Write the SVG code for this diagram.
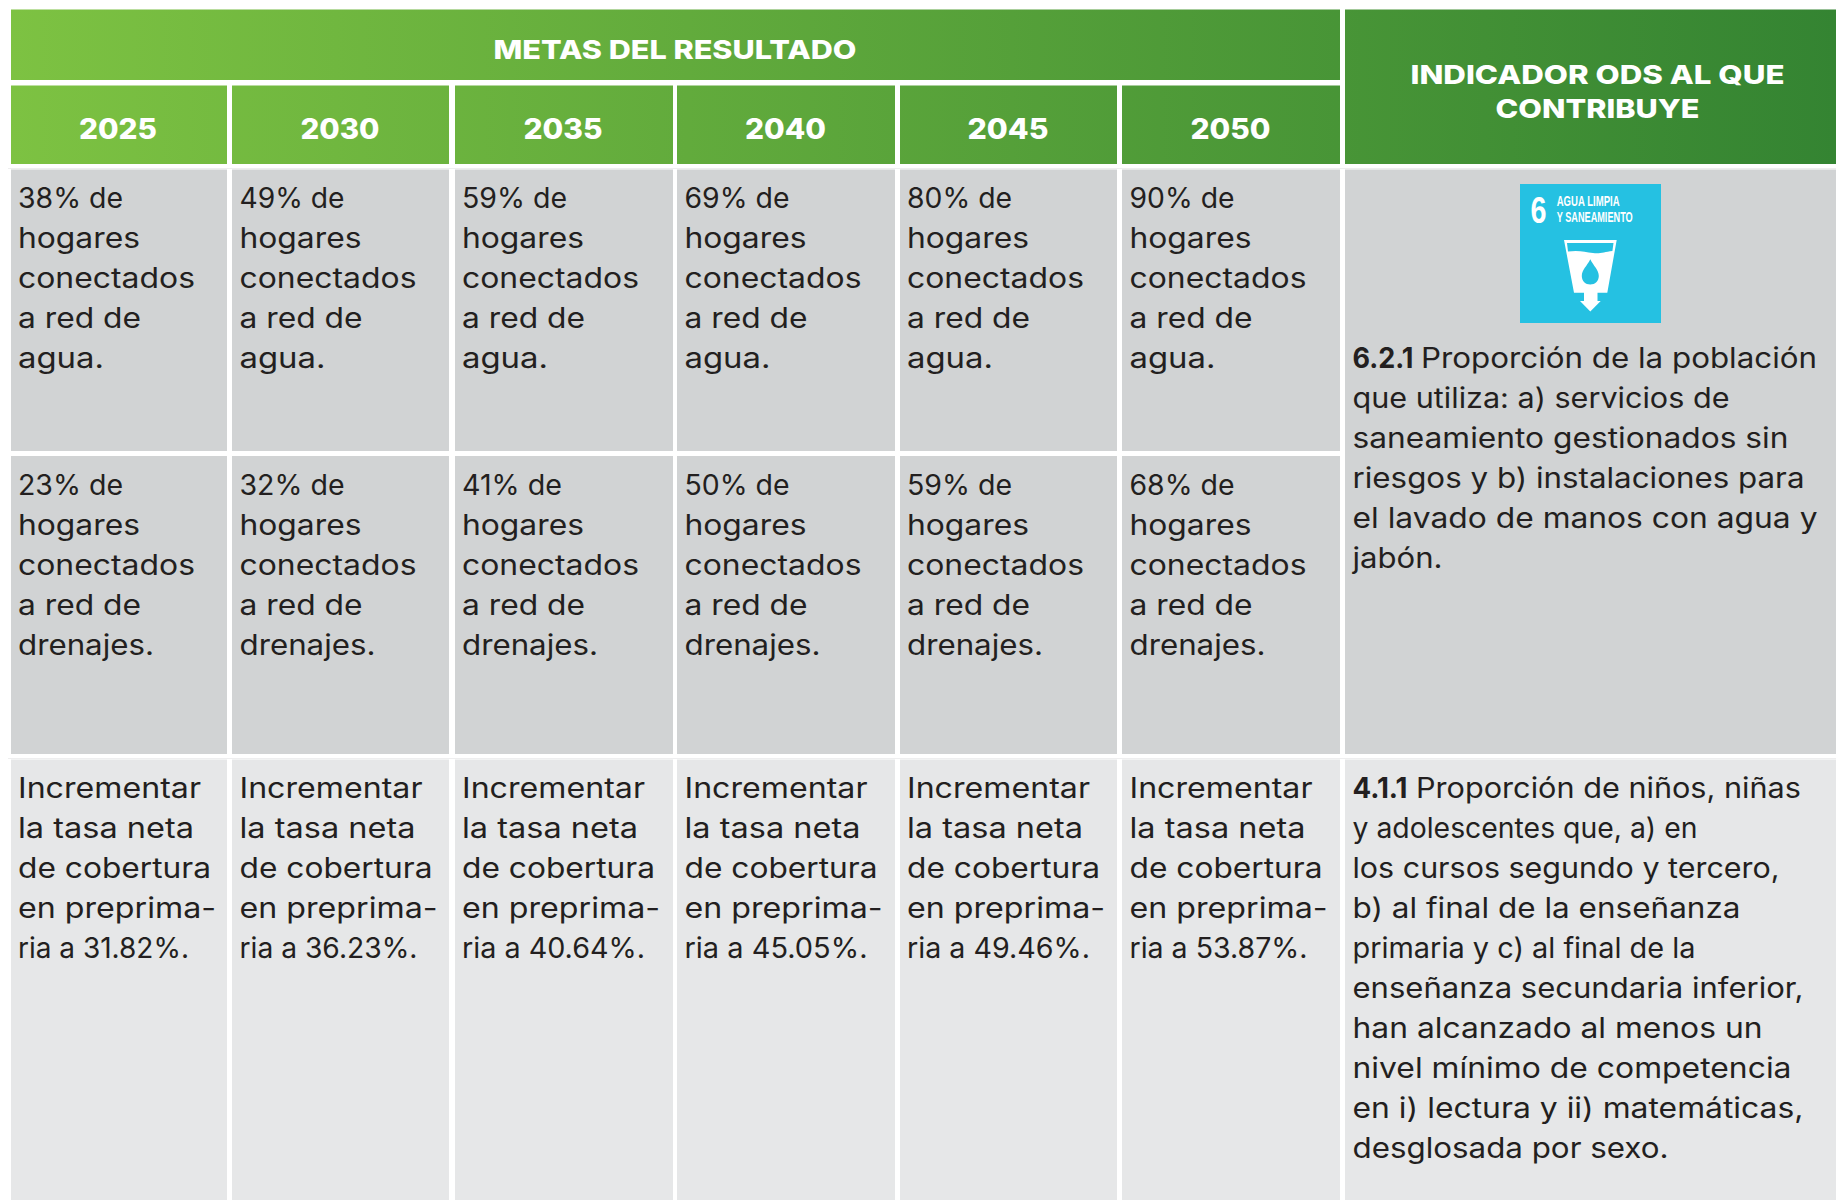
<svg xmlns="http://www.w3.org/2000/svg" width="1836" height="1200" viewBox="0 0 1836 1200">
<style>
text{font-family:"Inter","Liberation Sans",sans-serif}
.b{font-size:28px;fill:#231f20;font-weight:400}
.s{font-weight:700}
.h{font-size:26px;fill:#fff;font-weight:800;text-anchor:middle}
.y{font-size:28px;fill:#fff;font-weight:800;text-anchor:middle}
.d{fill:#d1d3d4}.l{fill:#e6e7e8}.g{fill:url(#g)}
.i{font-family:"Liberation Sans Narrow","Liberation Sans",sans-serif;fill:#fff;font-weight:700}
</style>
<defs><linearGradient id="g" gradientUnits="userSpaceOnUse" x1="11" y1="0" x2="1836" y2="0"><stop offset="0" stop-color="#7dc242"/><stop offset="1" stop-color="#348432"/></linearGradient></defs>
<rect width="1836" height="1200" fill="#fff"/>
<g id="grid" fill="#eeeeef"><rect x="8" y="168" width="1828" height="1"/><rect x="8" y="758" width="1828" height="1"/></g>
<g id="head-metas"><rect class="g" x="11" y="9.5" width="1329" height="70.5"/><text class="h" x="675" y="59" textLength="363" lengthAdjust="spacingAndGlyphs">METAS DEL RESULTADO</text></g>
<g id="head-ods"><rect class="g" x="1345" y="9.5" width="491" height="154.5"/><text class="h" x="1597.5" y="84" textLength="374" lengthAdjust="spacingAndGlyphs">INDICADOR ODS AL QUE</text><text class="h" x="1597.5" y="118" textLength="204" lengthAdjust="spacingAndGlyphs">CONTRIBUYE</text></g>
<g id="y2025"><rect class="g" x="11" y="85.5" width="216" height="78.5"/><text class="y" x="118" y="139" textLength="78" lengthAdjust="spacingAndGlyphs">2025</text></g>
<g id="y2030"><rect class="g" x="232" y="85.5" width="217" height="78.5"/><text class="y" x="340" y="139" textLength="79" lengthAdjust="spacingAndGlyphs">2030</text></g>
<g id="y2035"><rect class="g" x="455" y="85.5" width="218" height="78.5"/><text class="y" x="563" y="139" textLength="79" lengthAdjust="spacingAndGlyphs">2035</text></g>
<g id="y2040"><rect class="g" x="677" y="85.5" width="218" height="78.5"/><text class="y" x="785.500" y="139" textLength="81" lengthAdjust="spacingAndGlyphs">2040</text></g>
<g id="y2045"><rect class="g" x="900" y="85.5" width="217" height="78.5"/><text class="y" x="1008" y="139" textLength="81" lengthAdjust="spacingAndGlyphs">2045</text></g>
<g id="y2050"><rect class="g" x="1122" y="85.5" width="218" height="78.5"/><text class="y" x="1230.500" y="139" textLength="80" lengthAdjust="spacingAndGlyphs">2050</text></g>

<g id="agua-2025"><rect class="d" x="11" y="169.5" width="216" height="281.5"/><g class="b"><text x="18" y="208" textLength="105" lengthAdjust="spacingAndGlyphs">38% de</text><text x="18" y="248" textLength="122" lengthAdjust="spacingAndGlyphs">hogares</text><text x="18" y="288" textLength="177" lengthAdjust="spacingAndGlyphs">conectados</text><text x="18" y="328" textLength="123" lengthAdjust="spacingAndGlyphs">a red de</text><text x="18" y="368" textLength="86" lengthAdjust="spacingAndGlyphs">agua.</text></g></g>
<g id="agua-2030"><rect class="d" x="232" y="169.5" width="217" height="281.5"/><g class="b"><text x="239.500" y="208" textLength="105" lengthAdjust="spacingAndGlyphs">49% de</text><text x="239.500" y="248" textLength="122" lengthAdjust="spacingAndGlyphs">hogares</text><text x="239.500" y="288" textLength="177" lengthAdjust="spacingAndGlyphs">conectados</text><text x="239.500" y="328" textLength="123" lengthAdjust="spacingAndGlyphs">a red de</text><text x="239.500" y="368" textLength="86" lengthAdjust="spacingAndGlyphs">agua.</text></g></g>
<g id="agua-2035"><rect class="d" x="455" y="169.5" width="218" height="281.5"/><g class="b"><text x="462" y="208" textLength="105" lengthAdjust="spacingAndGlyphs">59% de</text><text x="462" y="248" textLength="122" lengthAdjust="spacingAndGlyphs">hogares</text><text x="462" y="288" textLength="177" lengthAdjust="spacingAndGlyphs">conectados</text><text x="462" y="328" textLength="123" lengthAdjust="spacingAndGlyphs">a red de</text><text x="462" y="368" textLength="86" lengthAdjust="spacingAndGlyphs">agua.</text></g></g>
<g id="agua-2040"><rect class="d" x="677" y="169.5" width="218" height="281.5"/><g class="b"><text x="684.500" y="208" textLength="105" lengthAdjust="spacingAndGlyphs">69% de</text><text x="684.500" y="248" textLength="122" lengthAdjust="spacingAndGlyphs">hogares</text><text x="684.500" y="288" textLength="177" lengthAdjust="spacingAndGlyphs">conectados</text><text x="684.500" y="328" textLength="123" lengthAdjust="spacingAndGlyphs">a red de</text><text x="684.500" y="368" textLength="86" lengthAdjust="spacingAndGlyphs">agua.</text></g></g>
<g id="agua-2045"><rect class="d" x="900" y="169.5" width="217" height="281.5"/><g class="b"><text x="907" y="208" textLength="105" lengthAdjust="spacingAndGlyphs">80% de</text><text x="907" y="248" textLength="122" lengthAdjust="spacingAndGlyphs">hogares</text><text x="907" y="288" textLength="177" lengthAdjust="spacingAndGlyphs">conectados</text><text x="907" y="328" textLength="123" lengthAdjust="spacingAndGlyphs">a red de</text><text x="907" y="368" textLength="86" lengthAdjust="spacingAndGlyphs">agua.</text></g></g>
<g id="agua-2050"><rect class="d" x="1122" y="169.5" width="218" height="281.5"/><g class="b"><text x="1129.500" y="208" textLength="105" lengthAdjust="spacingAndGlyphs">90% de</text><text x="1129.500" y="248" textLength="122" lengthAdjust="spacingAndGlyphs">hogares</text><text x="1129.500" y="288" textLength="177" lengthAdjust="spacingAndGlyphs">conectados</text><text x="1129.500" y="328" textLength="123" lengthAdjust="spacingAndGlyphs">a red de</text><text x="1129.500" y="368" textLength="86" lengthAdjust="spacingAndGlyphs">agua.</text></g></g>

<g id="drenaje-2025"><rect class="d" x="11" y="456" width="216" height="298"/><g class="b"><text x="18" y="495" textLength="105" lengthAdjust="spacingAndGlyphs">23% de</text><text x="18" y="535" textLength="122" lengthAdjust="spacingAndGlyphs">hogares</text><text x="18" y="575" textLength="177" lengthAdjust="spacingAndGlyphs">conectados</text><text x="18" y="615" textLength="123" lengthAdjust="spacingAndGlyphs">a red de</text><text x="18" y="655" textLength="136" lengthAdjust="spacingAndGlyphs">drenajes.</text></g></g>
<g id="drenaje-2030"><rect class="d" x="232" y="456" width="217" height="298"/><g class="b"><text x="239.500" y="495" textLength="105" lengthAdjust="spacingAndGlyphs">32% de</text><text x="239.500" y="535" textLength="122" lengthAdjust="spacingAndGlyphs">hogares</text><text x="239.500" y="575" textLength="177" lengthAdjust="spacingAndGlyphs">conectados</text><text x="239.500" y="615" textLength="123" lengthAdjust="spacingAndGlyphs">a red de</text><text x="239.500" y="655" textLength="136" lengthAdjust="spacingAndGlyphs">drenajes.</text></g></g>
<g id="drenaje-2035"><rect class="d" x="455" y="456" width="218" height="298"/><g class="b"><text x="462" y="495" textLength="100" lengthAdjust="spacingAndGlyphs">41% de</text><text x="462" y="535" textLength="122" lengthAdjust="spacingAndGlyphs">hogares</text><text x="462" y="575" textLength="177" lengthAdjust="spacingAndGlyphs">conectados</text><text x="462" y="615" textLength="123" lengthAdjust="spacingAndGlyphs">a red de</text><text x="462" y="655" textLength="136" lengthAdjust="spacingAndGlyphs">drenajes.</text></g></g>
<g id="drenaje-2040"><rect class="d" x="677" y="456" width="218" height="298"/><g class="b"><text x="684.500" y="495" textLength="105" lengthAdjust="spacingAndGlyphs">50% de</text><text x="684.500" y="535" textLength="122" lengthAdjust="spacingAndGlyphs">hogares</text><text x="684.500" y="575" textLength="177" lengthAdjust="spacingAndGlyphs">conectados</text><text x="684.500" y="615" textLength="123" lengthAdjust="spacingAndGlyphs">a red de</text><text x="684.500" y="655" textLength="136" lengthAdjust="spacingAndGlyphs">drenajes.</text></g></g>
<g id="drenaje-2045"><rect class="d" x="900" y="456" width="217" height="298"/><g class="b"><text x="907" y="495" textLength="105" lengthAdjust="spacingAndGlyphs">59% de</text><text x="907" y="535" textLength="122" lengthAdjust="spacingAndGlyphs">hogares</text><text x="907" y="575" textLength="177" lengthAdjust="spacingAndGlyphs">conectados</text><text x="907" y="615" textLength="123" lengthAdjust="spacingAndGlyphs">a red de</text><text x="907" y="655" textLength="136" lengthAdjust="spacingAndGlyphs">drenajes.</text></g></g>
<g id="drenaje-2050"><rect class="d" x="1122" y="456" width="218" height="298"/><g class="b"><text x="1129.500" y="495" textLength="105" lengthAdjust="spacingAndGlyphs">68% de</text><text x="1129.500" y="535" textLength="122" lengthAdjust="spacingAndGlyphs">hogares</text><text x="1129.500" y="575" textLength="177" lengthAdjust="spacingAndGlyphs">conectados</text><text x="1129.500" y="615" textLength="123" lengthAdjust="spacingAndGlyphs">a red de</text><text x="1129.500" y="655" textLength="136" lengthAdjust="spacingAndGlyphs">drenajes.</text></g></g>

<g id="pre-2025"><rect class="l" x="11" y="759.500" width="216" height="440.500"/><g class="b"><text x="18" y="798" textLength="183" lengthAdjust="spacingAndGlyphs">Incrementar</text><text x="18" y="838" textLength="176" lengthAdjust="spacingAndGlyphs">la tasa neta</text><text x="18" y="878" textLength="193" lengthAdjust="spacingAndGlyphs">de cobertura</text><text x="18" y="918" textLength="198" lengthAdjust="spacingAndGlyphs">en preprima-</text><text x="18" y="958" textLength="171" lengthAdjust="spacingAndGlyphs">ria a 31.82%.</text></g></g>
<g id="pre-2030"><rect class="l" x="232" y="759.500" width="217" height="440.500"/><g class="b"><text x="239.500" y="798" textLength="183" lengthAdjust="spacingAndGlyphs">Incrementar</text><text x="239.500" y="838" textLength="176" lengthAdjust="spacingAndGlyphs">la tasa neta</text><text x="239.500" y="878" textLength="193" lengthAdjust="spacingAndGlyphs">de cobertura</text><text x="239.500" y="918" textLength="198" lengthAdjust="spacingAndGlyphs">en preprima-</text><text x="239.500" y="958" textLength="178" lengthAdjust="spacingAndGlyphs">ria a 36.23%.</text></g></g>
<g id="pre-2035"><rect class="l" x="455" y="759.500" width="218" height="440.500"/><g class="b"><text x="462" y="798" textLength="183" lengthAdjust="spacingAndGlyphs">Incrementar</text><text x="462" y="838" textLength="176" lengthAdjust="spacingAndGlyphs">la tasa neta</text><text x="462" y="878" textLength="193" lengthAdjust="spacingAndGlyphs">de cobertura</text><text x="462" y="918" textLength="198" lengthAdjust="spacingAndGlyphs">en preprima-</text><text x="462" y="958" textLength="183" lengthAdjust="spacingAndGlyphs">ria a 40.64%.</text></g></g>
<g id="pre-2040"><rect class="l" x="677" y="759.500" width="218" height="440.500"/><g class="b"><text x="684.500" y="798" textLength="183" lengthAdjust="spacingAndGlyphs">Incrementar</text><text x="684.500" y="838" textLength="176" lengthAdjust="spacingAndGlyphs">la tasa neta</text><text x="684.500" y="878" textLength="193" lengthAdjust="spacingAndGlyphs">de cobertura</text><text x="684.500" y="918" textLength="198" lengthAdjust="spacingAndGlyphs">en preprima-</text><text x="684.500" y="958" textLength="183" lengthAdjust="spacingAndGlyphs">ria a 45.05%.</text></g></g>
<g id="pre-2045"><rect class="l" x="900" y="759.500" width="217" height="440.500"/><g class="b"><text x="907" y="798" textLength="183" lengthAdjust="spacingAndGlyphs">Incrementar</text><text x="907" y="838" textLength="176" lengthAdjust="spacingAndGlyphs">la tasa neta</text><text x="907" y="878" textLength="193" lengthAdjust="spacingAndGlyphs">de cobertura</text><text x="907" y="918" textLength="198" lengthAdjust="spacingAndGlyphs">en preprima-</text><text x="907" y="958" textLength="183" lengthAdjust="spacingAndGlyphs">ria a 49.46%.</text></g></g>
<g id="pre-2050"><rect class="l" x="1122" y="759.500" width="218" height="440.500"/><g class="b"><text x="1129.500" y="798" textLength="183" lengthAdjust="spacingAndGlyphs">Incrementar</text><text x="1129.500" y="838" textLength="176" lengthAdjust="spacingAndGlyphs">la tasa neta</text><text x="1129.500" y="878" textLength="193" lengthAdjust="spacingAndGlyphs">de cobertura</text><text x="1129.500" y="918" textLength="198" lengthAdjust="spacingAndGlyphs">en preprima-</text><text x="1129.500" y="958" textLength="178" lengthAdjust="spacingAndGlyphs">ria a 53.87%.</text></g></g>

<g id="ods-6"><rect class="d" x="1345" y="169.500" width="491" height="584.500"/>
<g id="icon-ods6"><rect x="1520" y="184" width="141" height="139" fill="#25c1e2"/>
<text class="i" x="1530.500" y="222.700" font-size="36" textLength="16" lengthAdjust="spacingAndGlyphs">6</text>
<text class="i" x="1556.700" y="205.700" font-size="14" textLength="63" lengthAdjust="spacingAndGlyphs">AGUA LIMPIA</text>
<text class="i" x="1556.700" y="222.300" font-size="14" textLength="76" lengthAdjust="spacingAndGlyphs">Y SANEAMIENTO</text>
<path d="M1564 240H1616.700L1607.300 292.700H1597.500V301H1600.700L1590.300 311.500L1580 301H1584V292.700H1574Z" fill="#fff"/>
<path d="M1567 243H1613.500L1612.400 251C1604 252 1600 254 1593 253C1585 252 1579 250 1568 251.500Z" fill="#25c1e2"/>
<path d="M1590.300 259.300C1587 266 1581.800 270 1581.800 276C1581.800 281 1585.500 284.500 1590.300 284.500C1595 284.500 1598.800 281 1598.800 276C1598.800 270 1593.500 266 1590.300 259.300Z" fill="#25c1e2"/></g>
<g class="b"><text y="368"><tspan class="s" x="1352.500" textLength="61" lengthAdjust="spacingAndGlyphs">6.2.1</tspan> <tspan x="1421" textLength="396" lengthAdjust="spacingAndGlyphs">Proporción de la población</tspan></text><text x="1352.500" y="408" textLength="377" lengthAdjust="spacingAndGlyphs">que utiliza: a) servicios de</text><text x="1352.500" y="448" textLength="436" lengthAdjust="spacingAndGlyphs">saneamiento gestionados sin</text><text x="1352.500" y="488" textLength="452" lengthAdjust="spacingAndGlyphs">riesgos y b) instalaciones para</text><text x="1352.500" y="528" textLength="465" lengthAdjust="spacingAndGlyphs">el lavado de manos con agua y</text><text x="1352.500" y="568" textLength="90" lengthAdjust="spacingAndGlyphs">jabón.</text></g></g>

<g id="ods-4"><rect class="l" x="1345" y="759.500" width="491" height="440.500"/>
<g class="b"><text y="798"><tspan class="s" x="1352.500" textLength="55" lengthAdjust="spacingAndGlyphs">4.1.1</tspan> <tspan x="1416" textLength="385" lengthAdjust="spacingAndGlyphs">Proporción de niños, niñas</tspan></text><text x="1352.500" y="838" textLength="345" lengthAdjust="spacingAndGlyphs">y adolescentes que, a) en</text><text x="1352.500" y="878" textLength="427" lengthAdjust="spacingAndGlyphs">los cursos segundo y tercero,</text><text x="1352.500" y="918" textLength="388" lengthAdjust="spacingAndGlyphs">b) al final de la enseñanza</text><text x="1352.500" y="958" textLength="343" lengthAdjust="spacingAndGlyphs">primaria y c) al final de la</text><text x="1352.500" y="998" textLength="451" lengthAdjust="spacingAndGlyphs">enseñanza secundaria inferior,</text><text x="1352.500" y="1038" textLength="410" lengthAdjust="spacingAndGlyphs">han alcanzado al menos un</text><text x="1352.500" y="1078" textLength="439" lengthAdjust="spacingAndGlyphs">nivel mínimo de competencia</text><text x="1352.500" y="1118" textLength="451" lengthAdjust="spacingAndGlyphs">en i) lectura y ii) matemáticas,</text><text x="1352.500" y="1158" textLength="316" lengthAdjust="spacingAndGlyphs">desglosada por sexo.</text></g></g>
</svg>
